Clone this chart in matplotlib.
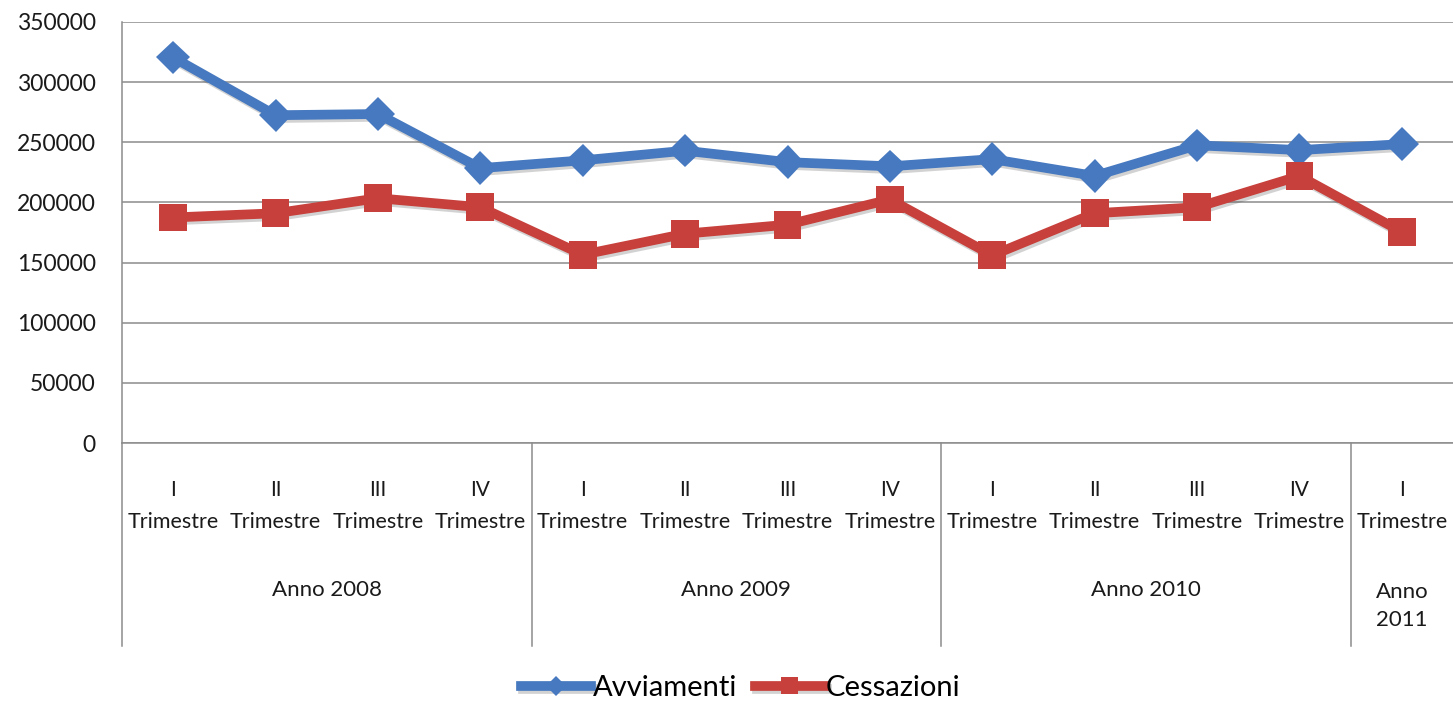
"""Avviamenti e cessazioni per trimestre, 2008-2011."""

import matplotlib

matplotlib.use("Agg")

import matplotlib.patheffects as pe
import matplotlib.pyplot as plt
import numpy as np
from matplotlib.lines import Line2D

# --- data ---
quarters = ["I", "II", "III", "IV", "I", "II", "III", "IV", "I", "II", "III", "IV", "I"]
years = ["Anno 2008", "Anno 2009", "Anno 2010", "Anno\n2011"]
quarters_per_year = [4, 4, 4, 1]
avviamenti = [320500, 272500, 273500, 228500, 235000, 243000, 233500, 230000,
              236000, 222000, 247500, 243500, 248500]
cessazioni = [187500, 191000, 203500, 196000, 156500, 174000, 181500, 202500,
              156000, 191000, 196000, 222000, 175500]
y_ticks = [0, 50000, 100000, 150000, 200000, 250000, 300000, 350000]

BLUE = "#4679BF"
RED = "#C7403B"
GRID = "#8C8C8C"
TEXT = "#1A1A1A"

plt.rcParams["font.family"] = ["Lato", "DejaVu Sans"]

fig = plt.figure(figsize=(14.53, 7.02), dpi=100)
ax = fig.add_axes([122 / 1453, 1 - 443 / 702, 1 - 122 / 1453, 421 / 702])

x = np.arange(len(quarters))
shadow = [pe.SimpleLineShadow(offset=(1.5, -2), alpha=0.25, shadow_color="0.3"), pe.Normal()]

ax.plot(x, avviamenti, color=BLUE, lw=7, marker="D", ms=17, mew=0,
        label="Avviamenti", path_effects=shadow, zorder=3, solid_joinstyle="miter")
ax.plot(x, cessazioni, color=RED, lw=7, marker="s", ms=20, mew=0,
        label="Cessazioni", path_effects=shadow, zorder=3, solid_joinstyle="miter")

ax.set_xlim(-0.5, len(quarters) - 0.5)
ax.set_ylim(0, 350000)
ax.set_yticks(y_ticks)
ax.set_yticklabels([str(v) for v in y_ticks], fontsize=16.5, color=TEXT)
ax.tick_params(axis="y", length=0, pad=19)
ax.set_xticks([])
ax.grid(True, axis="y", color=GRID, linewidth=1.1)
ax.set_axisbelow(True)
for side in ("top", "right"):
    ax.spines[side].set_visible(False)
for side in ("left", "bottom"):
    ax.spines[side].set_color(GRID)
    ax.spines[side].set_linewidth(1.1)

# multi-level category axis
trans = ax.get_xaxis_transform()
for xi, q in zip(x, quarters):
    ax.text(xi, -0.112, q, transform=trans, ha="center", va="center",
            fontsize=15, color=TEXT)
    ax.text(xi, -0.188, "Trimestre", transform=trans, ha="center", va="center",
            fontsize=15.5, color=TEXT)

bottom = -0.482
start = -0.5
for name, n in zip(years, quarters_per_year):
    ax.add_line(Line2D([start, start], [0, bottom], transform=trans, color=GRID,
                       lw=1.1, clip_on=False))
    ax.text(start + n / 2, -0.35 if "\n" not in name else -0.387, name,
            transform=trans, ha="center", va="center", fontsize=16,
            color=TEXT, linespacing=1.45)
    start += n

fig.legend(loc="center", bbox_to_anchor=(0.51, 1 - 688 / 702), ncol=2,
           frameon=False, fontsize=21, handlelength=2.4, handletextpad=0.05,
           columnspacing=0.6, markerscale=0.6, borderpad=0.0)

fig.savefig("out.png", dpi=100)
